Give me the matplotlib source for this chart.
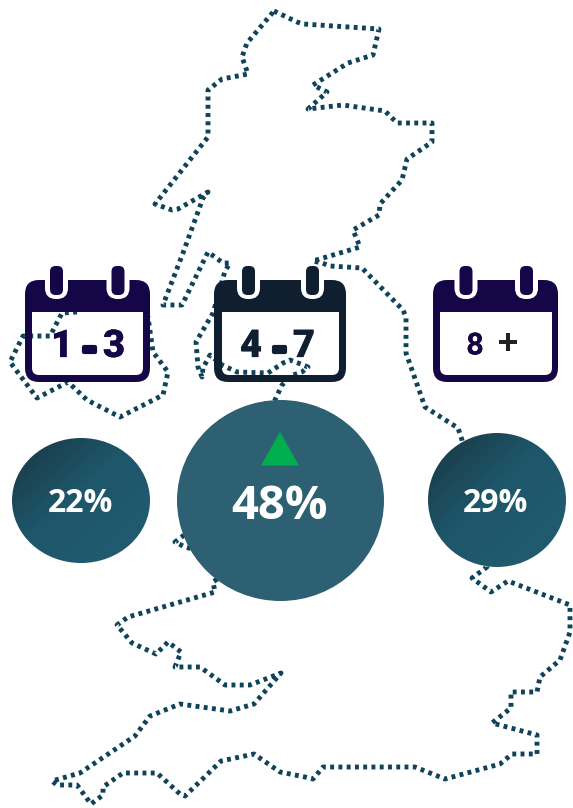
import numpy as np
import matplotlib
matplotlib.use("Agg")
import matplotlib.pyplot as plt
import matplotlib.patheffects as pe
from matplotlib.colors import LinearSegmentedColormap
from matplotlib.patches import Ellipse, FancyBboxPatch, PathPatch, Polygon
from matplotlib.path import Path

# share of responses per stay length
stay_labels = ["1 - 3", "4 - 7", "8 +"]
shares = [22, 48, 29]

# mainland outline, traced clockwise from the north coast
mainland_x = [274, 297, 303, 379, 373, 348, 313, 327, 308, 343, 385, 397, 432, 432, 407, 402,
              380, 379, 353, 360, 313, 322, 330, 362, 403, 406, 406, 425, 458, 462, 487, 472,
              491, 508, 570, 570, 560, 540, 537, 511, 511, 492, 537, 537, 512, 500, 445, 415,
              323, 313, 305, 280, 254, 221, 185, 180, 157, 123, 103, 103, 91, 77, 57, 52,
              80, 135, 150, 180, 230, 254, 281, 263, 250, 225, 200, 175, 181, 168, 156, 132,
              117, 128, 215, 213, 230, 215, 185, 175, 183, 275, 282, 293, 302, 308, 298, 290, 283, 268,
              237, 222, 210, 203, 202, 198, 196, 213, 225, 230, 223, 208, 182, 163, 183, 203,
              208, 178, 172, 155, 208, 208, 222, 248, 242, 247, 274]
mainland_y = [11, 22, 24, 29, 55, 63, 85, 92, 109, 105, 111, 123, 123, 142, 159, 180,
              204, 215, 230, 247, 261, 263, 266, 268, 310, 317, 353, 407, 428, 440, 567, 578,
              592, 581, 605, 632, 660, 677, 692, 692, 708, 723, 735, 754, 754, 764, 779, 767,
              767, 779, 777, 772, 754, 761, 796, 794, 773, 773, 787, 795, 804, 785, 785, 781,
              773, 736, 716, 704, 711, 704, 673, 680, 685, 685, 667, 667, 652, 642, 654, 643,
              625, 617, 592, 582, 570, 555, 547, 542, 536, 400, 385, 375, 372, 367, 363, 360, 363, 373,
              372, 365, 355, 368, 377, 367, 342, 313, 271, 263, 263, 252, 305, 305, 253, 198,
              192, 209, 210, 204, 137, 90, 79, 74, 57, 43, 11]

# western island outline, its ends run behind the first calendar
island_x = [77, 62, 50, 23, 10, 37, 68, 87, 120, 163, 168, 153, 148, 143]
island_y = [312, 313, 336, 336, 362, 398, 382, 400, 417, 395, 372, 352, 317, 312]

NAVY = "#140647"
INK = "#0f1f30"
DOTS = "#0f4358"


def round_rect(corners, radii):
    # corners are walked in the given order, so reversing them cuts a hole
    verts, codes = [], []
    n = len(corners)
    for i in range(n):
        p = np.array(corners[i], float)
        prev = np.array(corners[i - 1], float)
        nxt = np.array(corners[(i + 1) % n], float)
        a = p + (prev - p) / np.linalg.norm(prev - p) * radii[i]
        b = p + (nxt - p) / np.linalg.norm(nxt - p) * radii[i]
        verts += [a, p, b]
        codes += [Path.MOVETO if i == 0 else Path.LINETO, Path.CURVE3, Path.CURVE3]
    verts.append(verts[0])
    codes.append(Path.CLOSEPOLY)
    return verts, codes


def calendar(ax, x0, x1, inner0, inner1, rings, color):
    y0, y1 = 280, 382
    v1, c1 = round_rect([(x0, y0), (x1, y0), (x1, y1), (x0, y1)], [14, 14, 14, 14])
    v2, c2 = round_rect([(inner0, 312), (inner0, 375), (inner1, 375), (inner1, 312)], [0, 7, 7, 0])
    ax.add_patch(PathPatch(Path(v1 + v2, c1 + c2), fc=color, ec="none", zorder=3))
    for cx in rings:
        ax.add_patch(FancyBboxPatch((cx - 0.5, 278), 1, 10, boxstyle="round,pad=11,rounding_size=11",
                                    fc="white", ec="none", zorder=4))
        ax.add_patch(FancyBboxPatch((cx - 1, 271.5), 2, 18, boxstyle="round,pad=5.5,rounding_size=5.5",
                                    fc=color, ec="none", zorder=5))


def shaded_disc(ax, cx, cy, rx, ry):
    disc = Ellipse((cx, cy), 2 * rx, 2 * ry, fc="none", ec="none", zorder=6)
    ax.add_patch(disc)
    xx, yy = np.meshgrid(np.linspace(0, 1, 200), np.linspace(0, 1, 200))
    cmap = LinearSegmentedColormap.from_list("disc", ["#1a414f", "#1e566a", "#205a6e"])
    img = ax.imshow((xx + yy) / 2, cmap=cmap, vmin=0.15, vmax=0.75, zorder=6, aspect="auto",
                    extent=(cx - rx, cx + rx, cy + ry, cy - ry), interpolation="bilinear")
    img.set_clip_path(disc)


def glyph(ax, x, y, s, color, size=27.5, stroke=0.2, weight="black"):
    ax.text(x, y, s, color=color, family="Roboto", fontweight=weight, fontsize=size,
            ha="center", va="center", zorder=7,
            path_effects=[pe.withStroke(linewidth=stroke, foreground=color)])


fig = plt.figure(figsize=(5.73, 8.08), dpi=100)
ax = fig.add_axes([0, 0, 1, 1])

for xs, ys in [(mainland_x, mainland_y), (island_x, island_y)]:
    ax.plot(xs, ys, color=DOTS, lw=3.5, dashes=(0.8, 0.9), dash_capstyle="butt",
            dash_joinstyle="round", zorder=2)

calendar(ax, 25, 150, 32, 143, (56.5, 118), NAVY)
calendar(ax, 214, 346, 222, 339, (248.5, 312.5), INK)
calendar(ax, 433, 558, 440, 552, (466, 526.5), NAVY)

# stay length text, placed glyph by glyph to keep the wide spacing
first, dash1, last = stay_labels[0].split()
glyph(ax, 62, 346.5, first, NAVY)
glyph(ax, 89.5, 351, dash1, NAVY, stroke=3)
glyph(ax, 114, 346.5, last, NAVY)
first, dash2, last = stay_labels[1].split()
glyph(ax, 251, 346.5, first, INK)
glyph(ax, 280, 351, dash2, INK, stroke=3)
glyph(ax, 304, 346.5, last, INK)
first, plus = stay_labels[2].split()
glyph(ax, 475, 345.5, first, NAVY, size=22, stroke=0, weight="bold")
glyph(ax, 508, 344, plus, "#222222", size=26, stroke=0, weight="bold")

shaded_disc(ax, 81, 500.5, 69, 62.5)
ax.add_patch(Ellipse((280.5, 500.5), 207, 201, fc="#2d6073", ec="none", zorder=6))
shaded_disc(ax, 497, 500, 69, 67)
ax.add_patch(Polygon([(280, 432), (299, 465.5), (261, 465.5)], fc="#00ae50", ec="none", zorder=7))

for x, y, v, size in zip((80.5, 280, 496), (500, 501, 500), shares, (23, 34, 23)):
    ax.text(x, y, f"{v}%", color="white", family="Open Sans", fontweight="bold",
            fontsize=size, ha="center", va="center_baseline", zorder=8)

ax.set_xlim(0, 573)
ax.set_ylim(808, 0)
ax.axis("off")
fig.savefig("out.png", dpi=100, facecolor="white")
